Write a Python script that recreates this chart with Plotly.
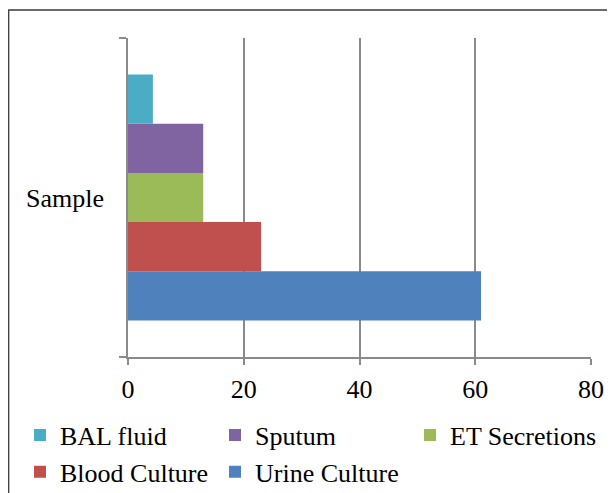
import plotly.graph_objects as go

category = ["Sample"]
series_names = ["Urine Culture", "Blood Culture", "ET Secretions", "Sputum", "BAL fluid"]
series_values = [61, 23, 13, 13, 4.3]
series_colors = ["#4F81BD", "#C0504D", "#9BBB59", "#8064A2", "#4BACC6"]
x_ticks = [0, 20, 40, 60, 80]

# page is offset by the 8px body margin
W, H = 607, 485
L, R, T, B = 120, 24, 30, 136
pw, ph = W - L - R, H - T - B


def px_x(fx):
    return (fx - L) / pw


def px_y(fy):
    return (H - B - fy) / ph


fig = go.Figure()
for name, val, col in zip(series_names, series_values, series_colors):
    fig.add_trace(go.Bar(y=category, x=[val], name=name, orientation="h",
                         marker=dict(color=col, line=dict(width=0))))

font = dict(family="Liberation Serif, Times New Roman, serif", size=26, color="#000")
axis_col = "#8a8a8a"
fig.update_layout(
    width=W, height=H, barmode="group", bargap=0.229,
    margin=dict(l=L, r=R, t=T, b=B, pad=0, autoexpand=False),
    paper_bgcolor="white", plot_bgcolor="white", font=font,
    xaxis=dict(range=[0, 80], tickvals=x_ticks, showgrid=True, gridcolor=axis_col,
               gridwidth=1.5, zeroline=False, showline=True, linecolor=axis_col,
               linewidth=1.5, ticks="outside", ticklen=6, tickcolor=axis_col,
               tickwidth=1.5, tickfont=font, ticklabelstandoff=2, fixedrange=True),
    yaxis=dict(type="category", range=[-0.5, 0.5], tickson="boundaries", showgrid=False,
               showline=True, linecolor=axis_col, linewidth=1.5, ticks="outside",
               ticklen=7, tickcolor=axis_col, tickwidth=1.5, tickfont=font,
               ticklabelstandoff=17, fixedrange=True),
    legend=dict(orientation="h", traceorder="reversed", x=px_x(12), xanchor="left",
                y=px_y(403.5), yanchor="top", entrywidth=150, entrywidthmode="pixels",
                font=font, itemwidth=30, tracegroupgap=0, bgcolor="rgba(0,0,0,0)"),
    showlegend=True,
)

# outer chart frame
fig.add_shape(type="rect", xref="paper", yref="paper",
              x0=px_x(0.7), x1=px_x(W + 10), y0=px_y(H + 10), y1=px_y(2),
              line=dict(color="#3a3a3a", width=1.3), fillcolor="rgba(0,0,0,0)", layer="below")

fig.write_html("out.html")
